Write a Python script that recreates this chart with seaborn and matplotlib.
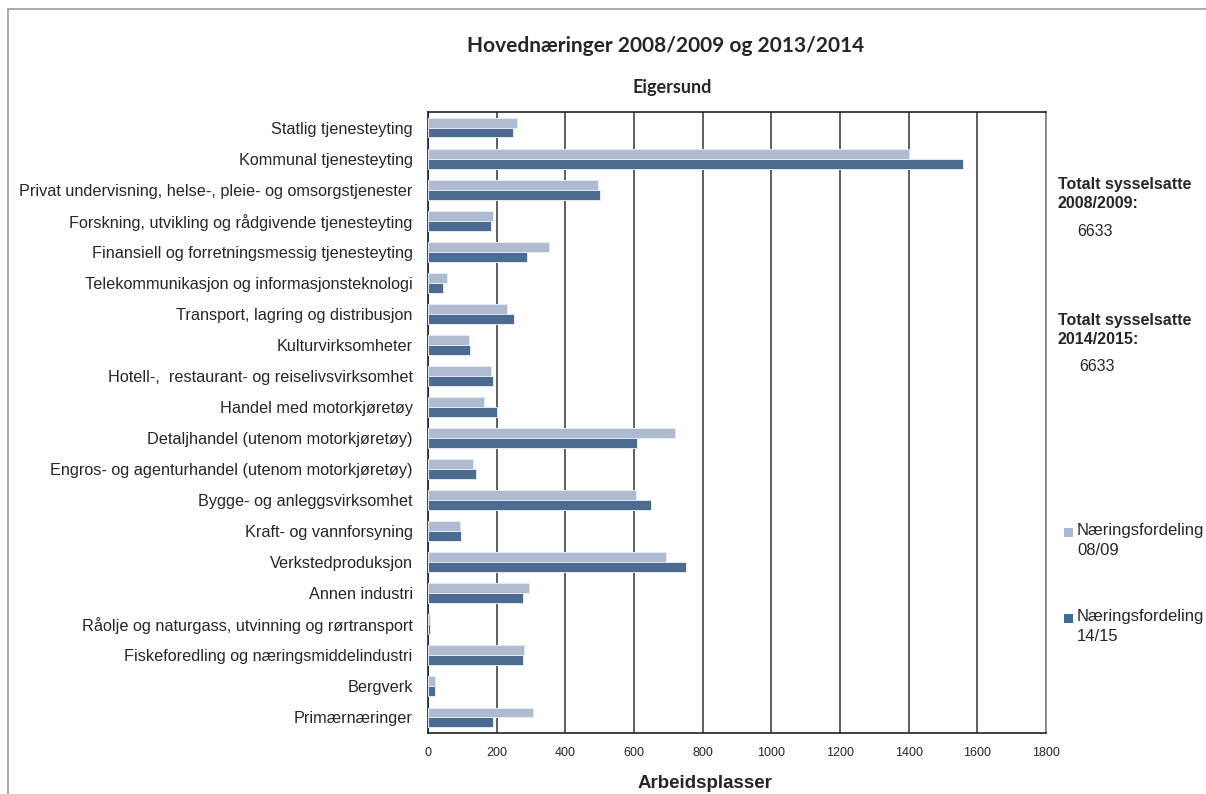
import matplotlib
matplotlib.use("Agg")
import matplotlib.pyplot as plt
import seaborn as sns
import pandas as pd
import numpy as np
from matplotlib.patches import Rectangle

categories = [
    "Statlig tjenesteyting",
    "Kommunal tjenesteyting",
    "Privat undervisning, helse-, pleie- og omsorgstjenester",
    "Forskning, utvikling og rådgivende tjenesteyting",
    "Finansiell og forretningsmessig tjenesteyting",
    "Telekommunikasjon og informasjonsteknologi",
    "Transport, lagring og distribusjon",
    "Kulturvirksomheter",
    "Hotell-,  restaurant- og reiselivsvirksomhet",
    "Handel med motorkjøretøy",
    "Detaljhandel (utenom motorkjøretøy)",
    "Engros- og agenturhandel (utenom motorkjøretøy)",
    "Bygge- og anleggsvirksomhet",
    "Kraft- og vannforsyning",
    "Verkstedproduksjon",
    "Annen industri",
    "Råolje og naturgass, utvinning og rørtransport",
    "Fiskeforedling og næringsmiddelindustri",
    "Bergverk",
    "Primærnæringer",
]
vals_0809 = [259, 1400, 496, 190, 353, 55, 230, 118, 183, 164,
             718, 132, 607, 92, 693, 295, 5, 281, 20, 307]
vals_1415 = [248, 1558, 501, 183, 288, 44, 251, 121, 190, 201,
             610, 140, 649, 96, 750, 277, 6, 277, 20, 190]
series = ["Næringsfordeling\n08/09", "Næringsfordeling\n14/15"]
colors = ["#A9B9D7", "#416A9C"]
xticks = list(range(0, 1801, 200))

df = pd.DataFrame({
    "kategori": categories * 2,
    "verdi": vals_0809 + vals_1415,
    "serie": [series[0]] * len(categories) + [series[1]] * len(categories),
})

sns.set_style("white")
plt.rcParams["font.family"] = ["Liberation Sans", "DejaVu Sans"]

fig = plt.figure(figsize=(12.06, 7.94), dpi=100)
ax = fig.add_axes([428 / 1206, 1 - 733 / 794, 618 / 1206, 621 / 794])

sns.barplot(data=df, y="kategori", x="verdi", hue="serie", hue_order=series,
            palette=colors, orient="h", width=0.64, ax=ax,
            edgecolor="#E4EAF3", linewidth=0.7, legend=False, zorder=3)

ax.set_xlim(0, 1800)
ax.set_xticks(xticks)
ax.set_xticklabels([str(t) for t in xticks], fontsize=9)
ax.grid(axis="x", color="#333333", linewidth=1.1, zorder=0)
ax.set_axisbelow(True)
ax.set_ylabel("")
ax.set_xlabel("")
ax.set_yticks(np.arange(len(categories)))
ax.set_yticklabels(categories, fontsize=11.7)
ax.set_yticks(np.arange(-0.5, len(categories)), minor=True)
ax.tick_params(axis="y", which="major", length=0, pad=11)
ax.tick_params(axis="y", which="minor", length=5, width=1, color="#222222", direction="out")
ax.tick_params(axis="x", which="major", length=4, width=1, color="#222222", direction="out", pad=6)
ax.set_ylim(len(categories) - 0.5, -0.5)
for side in ["left", "bottom", "top"]:
    ax.spines[side].set_color("#222222")
    ax.spines[side].set_linewidth(1.2)
ax.spines["right"].set_color("#888888")
ax.spines["right"].set_linewidth(1.2)

# title and subtitle
fig.text(666 / 1206, 1 - 46 / 794, "Hovednæringer 2008/2009 og 2013/2014",
         ha="center", va="center", fontsize=15, fontweight="bold", family=["Lato", "DejaVu Sans"])
fig.text(672 / 1206, 1 - 87 / 794, "Eigersund",
         ha="center", va="center", fontsize=13, fontweight="bold", family=["Lato", "DejaVu Sans"])
fig.text(705 / 1206, 1 - 783 / 794, "Arbeidsplasser",
         ha="center", va="center", fontsize=13.5, fontweight="bold")

# side notes
fig.text(1058 / 1206, 1 - 194 / 794, "Totalt sysselsatte\n2008/2009:",
         ha="left", va="center", fontsize=11.5, fontweight="bold", linespacing=1.3)
fig.text(1077 / 1206, 1 - 231 / 794, "6633", ha="left", va="center", fontsize=11.5)
fig.text(1058 / 1206, 1 - 330 / 794, "Totalt sysselsatte\n2014/2015:",
         ha="left", va="center", fontsize=11.5, fontweight="bold", linespacing=1.3)
fig.text(1079 / 1206, 1 - 367 / 794, "6633", ha="left", va="center", fontsize=11.5)

# legend
for i, (lab, col) in enumerate(zip(series, colors)):
    yc = 1 - (532 + i * 86) / 794
    fig.patches.append(Rectangle((1064 / 1206, yc - 4.5 / 794), 9 / 1206, 9 / 794,
                                 transform=fig.transFigure, facecolor=col,
                                 edgecolor="none", figure=fig))
    fig.text(1077 / 1206, yc + 9 / 794, lab, ha="left", va="top",
             fontsize=12, linespacing=1.4)

# outer frame
fig.patches.append(Rectangle((8 / 1206, -0.01), 1.1, 1 - 9 / 794 + 0.01,
                             transform=fig.transFigure, facecolor="none",
                             edgecolor="#999999", linewidth=1.2, figure=fig))

fig.savefig("out.png", dpi=100)
